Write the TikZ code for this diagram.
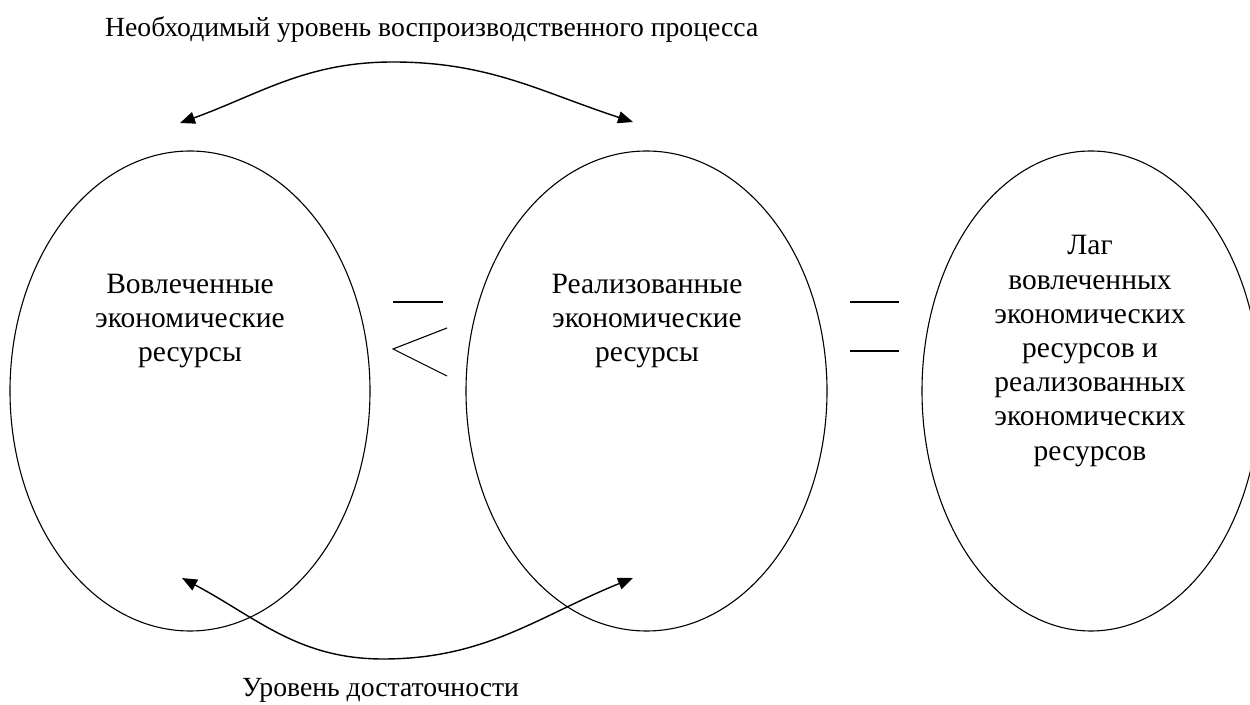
\documentclass[tikz,border=0pt]{standalone}
\usepackage{fontspec}
\setmainfont{Liberation Serif}
\usetikzlibrary{arrows.meta,shapes.geometric}
\begin{document}
\begin{tikzpicture}[x=1pt,y=1pt,
  ell/.style={draw, ellipse, line width=1.1pt, inner sep=0pt, minimum height=480pt},
  lbl/.style={align=center, inner sep=0pt, font=\fontsize{29.5}{34.2}\selectfont},
  caption/.style={inner sep=0pt, font=\fontsize{27.7}{32}\selectfont},
  link/.style={line width=1.4pt, {Triangle[length=15pt,width=12pt]}-{Triangle[length=15pt,width=12pt]}},
  sym/.style={line width=1.1pt}]
\useasboundingbox (0,0) rectangle (1250,704);
% ellipses
\node[ell, minimum width=360pt] (L) at (190,313) {};
\node[ell, minimum width=361pt] (M) at (646.5,313) {};
\node[ell, minimum width=338pt] (R) at (1091,313) {};
% texts
\node[lbl] (Lt) at (190,383) {Вовлеченные\\экономические\\ресурсы};
\node[lbl] (Mt) at (647,383) {Реализованные\\экономические\\ресурсы};
\node[lbl] (Rt) at (1090,353) {Лаг\\вовлеченных\\экономических\\ресурсов и\\реализованных\\экономических\\ресурсов};
\node[caption, anchor=base west] (top) at (105,667) {Необходимый уровень воспроизводственного процесса};
\node[caption, anchor=base west] (bot) at (242,7) {Уровень достаточности};
% relation symbols
\draw[sym] (393,402) -- (443,402);
\draw[sym] (447,376) -- (393,355) -- (447,328);
\draw[sym] (850,402) -- (899,402);
\draw[sym] (850,353) -- (899,353);
% arrows
\coordinate (topL) at (180,581);
\coordinate (topP) at (393,642);
\coordinate (topR) at (633,582);
\coordinate (botL) at (182,126);
\coordinate (botP) at (383,45);
\coordinate (botR) at (633,126);
\draw[link] (topL) to[out=20,in=180] (topP) to[out=0,in=162] (topR);
\draw[link] (botL) to[out=-28,in=180] (botP) to[out=0,in=202] (botR);
\end{tikzpicture}
\end{document}
